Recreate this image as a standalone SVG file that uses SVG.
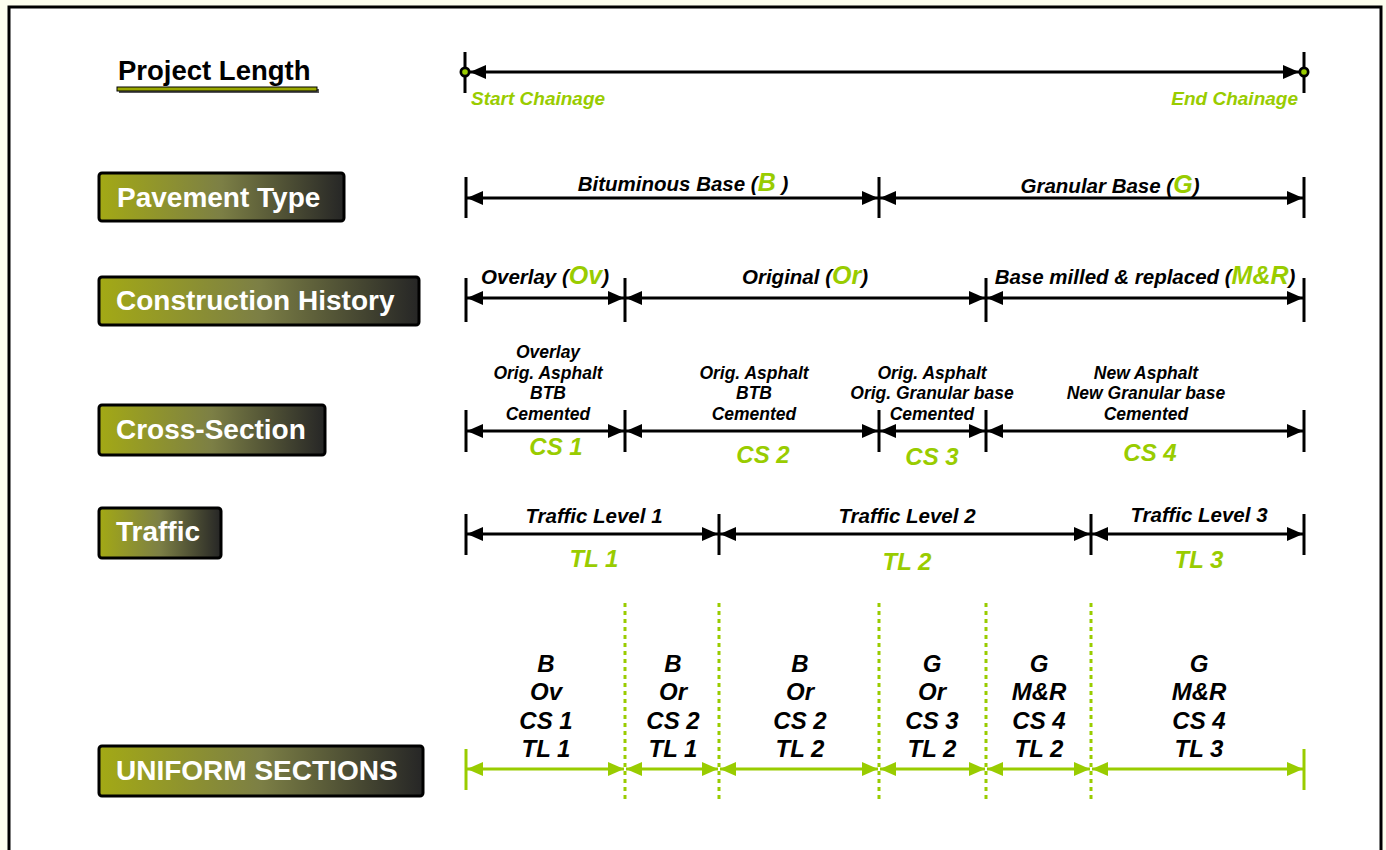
<svg xmlns="http://www.w3.org/2000/svg" width="1386" height="850" viewBox="0 0 1386 850">
<defs>
<linearGradient id="boxg" x1="0" y1="0" x2="1" y2="0">
<stop offset="0" stop-color="#a3a915"/>
<stop offset="0.5" stop-color="#7c7f45"/>
<stop offset="1" stop-color="#262626"/>
</linearGradient>
<marker id="ah" markerUnits="userSpaceOnUse" markerWidth="16" markerHeight="14" refX="16" refY="7" orient="auto-start-reverse">
<path d="M0,0 L16,7 L0,14 z" fill="#000"/>
</marker>
<marker id="ahg" markerUnits="userSpaceOnUse" markerWidth="16" markerHeight="14" refX="16" refY="7" orient="auto-start-reverse">
<path d="M0,0 L16,7 L0,14 z" fill="#99cc00"/>
</marker>
<style>
.box{fill:url(#boxg);stroke:#000;stroke-width:3}
.bt{font-family:"Liberation Sans",Arial,sans-serif;font-weight:bold;font-size:28px;fill:#fff}
.dim{stroke:#000;stroke-width:3;fill:none;marker-start:url(#ah);marker-end:url(#ah)}
.dimg{stroke:#99cc00;stroke-width:3;fill:none;marker-start:url(#ahg);marker-end:url(#ahg)}
.tick{stroke:#000;stroke-width:3}
.tickg{stroke:#99cc00;stroke-width:3}
.dot{stroke:#99cc00;stroke-width:3;stroke-dasharray:4 4}
.lb{font-family:"Liberation Sans",Arial,sans-serif;font-weight:bold;font-style:italic;font-size:20.5px;fill:#000;text-anchor:middle}
.sm{font-family:"Liberation Sans",Arial,sans-serif;font-weight:bold;font-style:italic;font-size:17.5px;fill:#000;text-anchor:middle}
.gl{font-family:"Liberation Sans",Arial,sans-serif;font-weight:bold;font-style:italic;font-size:24px;fill:#99cc00;text-anchor:middle}
.gi{fill:#99cc00;font-size:25px}
.us{font-family:"Liberation Sans",Arial,sans-serif;font-weight:bold;font-style:italic;font-size:24px;fill:#000;text-anchor:middle}
.ch{font-family:"Liberation Sans",Arial,sans-serif;font-weight:bold;font-style:italic;font-size:19px;fill:#99cc00}
</style>
</defs>
<rect x="0" y="0" width="1386" height="850" fill="#fdfeee"/>
<rect x="9" y="7" width="1372" height="850" fill="#fff" stroke="#000" stroke-width="3"/>

<g id="project-length">
<text x="118" y="80" font-family="Liberation Sans,Arial,sans-serif" font-weight="bold" font-size="27.5" fill="#000">Project Length</text>
<rect x="119" y="89" width="200" height="4" fill="#555"/>
<rect x="117" y="87" width="200" height="4" fill="#9aa800" stroke="#000" stroke-width="1"/>
</g>
<g id="pavement-type"><rect class="box" x="99" y="173" width="245" height="48" rx="3"/><text class="bt" x="117" y="207">Pavement Type</text></g>
<g id="construction-history"><rect class="box" x="99" y="277" width="320" height="48" rx="3"/><text class="bt" x="116" y="310">Construction History</text></g>
<g id="cross-section"><rect class="box" x="99" y="405" width="226" height="50" rx="3"/><text class="bt" x="116" y="439">Cross-Section</text></g>
<g id="traffic"><rect class="box" x="99" y="508" width="122" height="50" rx="3"/><text class="bt" x="116" y="541">Traffic</text></g>
<g id="uniform-sections"><rect class="box" x="99" y="746" width="324" height="50" rx="3"/><text class="bt" x="116" y="780">UNIFORM SECTIONS</text></g>

<g id="connectors">
<line class="tick" x1="465" y1="52" x2="465" y2="93"/>
<line class="tick" x1="1304" y1="52" x2="1304" y2="93"/>
<line class="dim" x1="470" y1="72" x2="1299" y2="72"/>
<circle cx="465" cy="72" r="5.5" fill="#000"/><circle cx="465" cy="72" r="2.8" fill="#99cc00"/>
<circle cx="1304" cy="72" r="5.5" fill="#000"/><circle cx="1304" cy="72" r="2.8" fill="#99cc00"/>
<line class="tick" x1="466" y1="177" x2="466" y2="218"/>
<line class="tick" x1="879" y1="177" x2="879" y2="218"/>
<line class="tick" x1="1304" y1="177" x2="1304" y2="218"/>
<line class="dim" x1="467" y1="198" x2="878" y2="198"/>
<line class="dim" x1="880" y1="198" x2="1303" y2="198"/>
<line class="tick" x1="466" y1="278" x2="466" y2="322"/>
<line class="tick" x1="625" y1="278" x2="625" y2="322"/>
<line class="tick" x1="986" y1="278" x2="986" y2="322"/>
<line class="tick" x1="1304" y1="278" x2="1304" y2="322"/>
<line class="dim" x1="467" y1="298" x2="624" y2="298"/>
<line class="dim" x1="626" y1="298" x2="985" y2="298"/>
<line class="dim" x1="987" y1="298" x2="1303" y2="298"/>
<line class="tick" x1="466" y1="410" x2="466" y2="452"/>
<line class="tick" x1="625" y1="410" x2="625" y2="452"/>
<line class="tick" x1="879" y1="410" x2="879" y2="452"/>
<line class="tick" x1="986" y1="410" x2="986" y2="452"/>
<line class="tick" x1="1304" y1="410" x2="1304" y2="452"/>
<line class="dim" x1="467" y1="431" x2="624" y2="431"/>
<line class="dim" x1="626" y1="431" x2="878" y2="431"/>
<line class="dim" x1="880" y1="431" x2="985" y2="431"/>
<line class="dim" x1="987" y1="431" x2="1303" y2="431"/>
<line class="tick" x1="466" y1="514" x2="466" y2="555"/>
<line class="tick" x1="719" y1="514" x2="719" y2="555"/>
<line class="tick" x1="1091" y1="514" x2="1091" y2="555"/>
<line class="tick" x1="1304" y1="514" x2="1304" y2="555"/>
<line class="dim" x1="467" y1="534" x2="718" y2="534"/>
<line class="dim" x1="720" y1="534" x2="1090" y2="534"/>
<line class="dim" x1="1092" y1="534" x2="1303" y2="534"/>
<line class="tickg" x1="466" y1="749" x2="466" y2="790"/>
<line class="tickg" x1="1304" y1="749" x2="1304" y2="790"/>
<line class="dot" x1="625" y1="603" x2="625" y2="802"/>
<line class="dot" x1="719" y1="603" x2="719" y2="802"/>
<line class="dot" x1="879" y1="603" x2="879" y2="802"/>
<line class="dot" x1="986" y1="603" x2="986" y2="802"/>
<line class="dot" x1="1091" y1="603" x2="1091" y2="802"/>
<line class="dimg" x1="467" y1="769" x2="624" y2="769"/>
<line class="dimg" x1="626" y1="769" x2="718" y2="769"/>
<line class="dimg" x1="720" y1="769" x2="878" y2="769"/>
<line class="dimg" x1="880" y1="769" x2="985" y2="769"/>
<line class="dimg" x1="987" y1="769" x2="1090" y2="769"/>
<line class="dimg" x1="1092" y1="769" x2="1303" y2="769"/>
</g>

<g id="labels">
<text class="ch" x="471" y="105">Start Chainage</text>
<text class="ch" x="1298" y="105" text-anchor="end">End Chainage</text>

<text class="lb" x="683" y="191">Bituminous Base (<tspan class="gi">B</tspan> )</text>
<text class="lb" x="1110" y="193">Granular Base (<tspan class="gi">G</tspan>)</text>

<text class="lb" x="545" y="284">Overlay (<tspan class="gi">Ov</tspan>)</text>
<text class="lb" x="805" y="284">Original (<tspan class="gi">Or</tspan>)</text>
<text class="lb" x="1145" y="284">Base milled &amp; replaced (<tspan class="gi">M&amp;R</tspan>)</text>

<text class="sm" x="548" y="358">Overlay</text>
<text class="sm" x="548" y="379">Orig. Asphalt</text>
<text class="sm" x="548" y="399">BTB</text>
<text class="sm" x="548" y="420">Cemented</text>
<text class="gl" x="556" y="455">CS 1</text>

<text class="sm" x="754" y="379">Orig. Asphalt</text>
<text class="sm" x="754" y="399">BTB</text>
<text class="sm" x="754" y="420">Cemented</text>
<text class="gl" x="763" y="463">CS 2</text>

<text class="sm" x="932" y="379">Orig. Asphalt</text>
<text class="sm" x="932" y="399">Orig. Granular base</text>
<text class="sm" x="932" y="420">Cemented</text>
<text class="gl" x="932" y="465">CS 3</text>

<text class="sm" x="1146" y="379">New Asphalt</text>
<text class="sm" x="1146" y="399">New Granular base</text>
<text class="sm" x="1146" y="420">Cemented</text>
<text class="gl" x="1150" y="461">CS 4</text>

<text class="lb" x="594" y="523">Traffic Level 1</text>
<text class="lb" x="907" y="523">Traffic Level 2</text>
<text class="lb" x="1199" y="522">Traffic Level 3</text>
<text class="gl" x="594" y="567">TL 1</text>
<text class="gl" x="907" y="570">TL 2</text>
<text class="gl" x="1199" y="568">TL 3</text>

<text class="us" x="546" y="672">B</text><text class="us" x="546" y="700">Ov</text><text class="us" x="546" y="729">CS 1</text><text class="us" x="546" y="757">TL 1</text>
<text class="us" x="673" y="672">B</text><text class="us" x="673" y="700">Or</text><text class="us" x="673" y="729">CS 2</text><text class="us" x="673" y="757">TL 1</text>
<text class="us" x="800" y="672">B</text><text class="us" x="800" y="700">Or</text><text class="us" x="800" y="729">CS 2</text><text class="us" x="800" y="757">TL 2</text>
<text class="us" x="932" y="672">G</text><text class="us" x="932" y="700">Or</text><text class="us" x="932" y="729">CS 3</text><text class="us" x="932" y="757">TL 2</text>
<text class="us" x="1039" y="672">G</text><text class="us" x="1039" y="700">M&amp;R</text><text class="us" x="1039" y="729">CS 4</text><text class="us" x="1039" y="757">TL 2</text>
<text class="us" x="1199" y="672">G</text><text class="us" x="1199" y="700">M&amp;R</text><text class="us" x="1199" y="729">CS 4</text><text class="us" x="1199" y="757">TL 3</text>
</g>
</svg>
